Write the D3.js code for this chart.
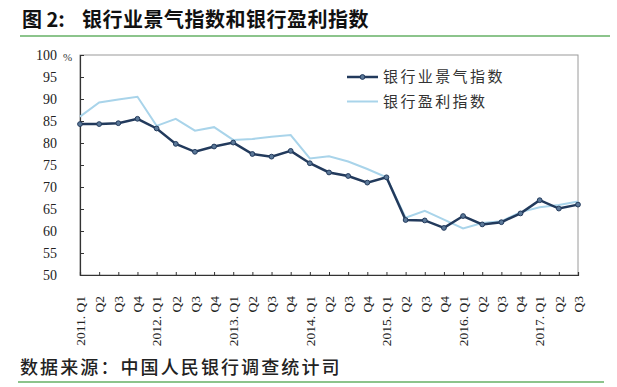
<!DOCTYPE html>
<html>
<head>
<meta charset="utf-8">
<script src="https://cdn.jsdelivr.net/npm/d3@7"></script>
<style>
  body { margin: 0; background: #fff; }
  svg { display: block; }
</style>
</head>
<body>
<script>
// quarters 2011.Q1 .. 2017.Q3
const quarters = [
  "2011. Q1", "Q2", "Q3", "Q4",
  "2012. Q1", "Q2", "Q3", "Q4",
  "2013. Q1", "Q2", "Q3", "Q4",
  "2014. Q1", "Q2", "Q3", "Q4",
  "2015. Q1", "Q2", "Q3", "Q4",
  "2016. Q1", "Q2", "Q3", "Q4",
  "2017. Q1", "Q2", "Q3"
];

// 银行业景气指数
const climateIndex = [
  84.3, 84.3, 84.5, 85.5,
  83.3, 79.8, 78.0, 79.2,
  80.1, 77.5, 76.9, 78.2,
  75.4, 73.3, 72.5, 71.0,
  72.2, 62.5, 62.4, 60.7,
  63.4, 61.5, 62.0, 64.0,
  67.0, 65.1, 66.0
];

// 银行盈利指数
const profitIndex = [
  86.0, 89.2, 89.9, 90.5,
  83.9, 85.5, 82.8, 83.6,
  80.7, 80.9, 81.4, 81.8,
  76.5, 77.0, 75.8, 74.1,
  72.2, 63.0, 64.6, 62.6,
  60.6, 61.8, 62.2, 64.3,
  65.4, 65.9, 66.7
];

const yTicks = [50, 55, 60, 65, 70, 75, 80, 85, 90, 95, 100];

const width = 617, height = 387;
const plotLeft = 80, plotRight = 578, plotTop = 55, plotBottom = 275;

const svg = d3.select("body").append("svg")
    .attr("width", width)
    .attr("height", height);

// title and source
const titleStyle = sel => sel
    .style("font-family", "'Noto Sans CJK SC', sans-serif")
    .style("font-weight", "bold")
    .style("font-size", "20px")
    .style("fill", "#111");

svg.append("text")
    .attr("x", 22)
    .attr("y", 27)
    .text("图 2:")
    .call(titleStyle);

svg.append("text")
    .attr("x", 82)
    .attr("y", 27)
    .text("银行业景气指数和银行盈利指数")
    .call(titleStyle)
    .style("letter-spacing", "0.5px");

svg.append("line")
    .attr("x1", 20).attr("x2", 610)
    .attr("y1", 36).attr("y2", 36)
    .attr("stroke", "#8cc48c")
    .attr("stroke-width", 2);

svg.append("text")
    .attr("x", 20)
    .attr("y", 374)
    .text("数据来源：中国人民银行调查统计司")
    .style("font-family", "'Noto Sans CJK SC', sans-serif")
    .style("font-weight", "500")
    .style("font-size", "18px")
    .style("letter-spacing", "2.1px")
    .style("fill", "#222");

svg.append("line")
    .attr("x1", 18).attr("x2", 604)
    .attr("y1", 382).attr("y2", 382)
    .attr("stroke", "#8cc48c")
    .attr("stroke-width", 2);

// scales
const x = d3.scalePoint()
    .domain(d3.range(quarters.length))
    .range([plotLeft, plotRight]);

const y = d3.scaleLinear()
    .domain([50, 100])
    .range([plotBottom, plotTop]);

// plot frame
svg.append("rect")
    .attr("x", plotLeft).attr("y", plotTop)
    .attr("width", plotRight - plotLeft).attr("height", plotBottom - plotTop)
    .attr("fill", "none")
    .attr("stroke", "#9a9a9a")
    .attr("stroke-width", 1);

// y axis
const yAxis = svg.append("g")
    .attr("transform", `translate(${plotLeft},0)`)
    .call(d3.axisRight(y).tickValues(yTicks).tickSize(4).tickFormat(""));
yAxis.select(".domain").attr("stroke", "#333").attr("stroke-width", 1.2);
yAxis.selectAll(".tick line").attr("stroke", "#333");

svg.append("g")
  .selectAll("text")
  .data(yTicks)
  .join("text")
    .attr("x", 57)
    .attr("y", d => y(d))
    .attr("dy", "0.35em")
    .attr("text-anchor", "end")
    .text(d => d)
    .style("font-family", "'Liberation Serif', serif")
    .style("font-size", "14px")
    .style("fill", "#222");

svg.append("text")
    .attr("x", 63)
    .attr("y", 61)
    .text("%")
    .style("font-family", "'Liberation Serif', serif")
    .style("font-size", "11px")
    .style("fill", "#333");

// x axis
const xAxis = svg.append("g")
    .attr("transform", `translate(0,${plotBottom})`)
    .call(d3.axisTop(x).tickSize(3).tickFormat(""));
xAxis.select(".domain").attr("stroke", "#333").attr("stroke-width", 1.2);
xAxis.selectAll(".tick line").attr("stroke", "#333");

svg.append("g")
  .selectAll("text")
  .data(quarters)
  .join("text")
    .attr("transform", (d, i) => `translate(${x(i)},296) rotate(-90)`)
    .attr("dy", "0.35em")
    .attr("text-anchor", "end")
    .text(d => d)
    .style("font-family", "'Liberation Serif', serif")
    .style("font-size", "13.5px")
    .style("fill", "#222");

// lines
const line = d3.line()
    .x((d, i) => x(i))
    .y(d => y(d));

svg.append("path")
    .datum(profitIndex)
    .attr("d", line)
    .attr("fill", "none")
    .attr("stroke", "#a9d4ea")
    .attr("stroke-width", 2);

svg.append("path")
    .datum(climateIndex)
    .attr("d", line)
    .attr("fill", "none")
    .attr("stroke", "#223a5c")
    .attr("stroke-width", 2.5);

svg.append("g")
  .selectAll("circle")
  .data(climateIndex)
  .join("circle")
    .attr("cx", (d, i) => x(i))
    .attr("cy", d => y(d))
    .attr("r", 2.4)
    .attr("fill", "#5b7898")
    .attr("stroke", "#223a5c")
    .attr("stroke-width", 1);

// legend
const legendItems = [
  { name: "银行业景气指数", color: "#223a5c", w: 2.5, marker: true },
  { name: "银行盈利指数", color: "#a9d4ea", w: 2, marker: false }
];

const legend = svg.append("g");
legendItems.forEach((item, i) => {
  const ly = 77 + i * 24.5;
  legend.append("line")
      .attr("x1", 347).attr("x2", 378)
      .attr("y1", ly).attr("y2", ly)
      .attr("stroke", item.color)
      .attr("stroke-width", item.w);
  if (item.marker) {
    legend.append("circle")
        .attr("cx", 362.5).attr("cy", ly)
        .attr("r", 2.4)
        .attr("fill", "#5b7898")
        .attr("stroke", item.color)
        .attr("stroke-width", 1);
  }
  legend.append("text")
      .attr("x", 383)
      .attr("y", ly)
      .attr("dy", "0.36em")
      .text(item.name)
      .style("font-family", "'Noto Sans CJK SC', sans-serif")
      .style("font-size", "15px")
      .style("letter-spacing", "2.4px")
      .style("fill", "#333");
});
</script>
</body>
</html>
